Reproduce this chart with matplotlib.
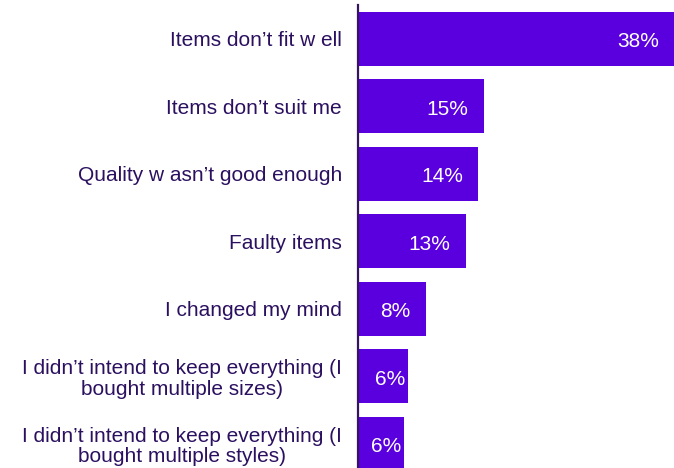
import matplotlib.pyplot as plt
from matplotlib.transforms import offset_copy

plt.rcParams["font.family"] = ["Liberation Sans", "DejaVu Sans"]

# ---------------------------------------------------------------------------
# data
# ---------------------------------------------------------------------------
categories = [
    "Items don\u2019t fit w ell",
    "Items don\u2019t suit me",
    "Quality w asn\u2019t good enough",
    "Faulty items",
    "I changed my mind",
    "I didn\u2019t intend to keep everything (I\nbought multiple sizes)",
    "I didn\u2019t intend to keep everything (I\nbought multiple styles)",
]
values = [38.0, 15.0, 14.3, 12.8, 8.1, 6.0, 5.5]
value_labels = [f"{round(v)}%" for v in values]

BAR = "#5a00de"
TEXT = "#2b1060"
AXIS = "#35155e"

W, H = 674, 468
fig = plt.figure(figsize=(W / 100, H / 100), dpi=100)
# axes placed in pixel terms: spine at x=358, top at y=5, bottom at figure edge
ax = fig.add_axes([358 / W, 0, 1 - 358 / W, (H - 5) / H])

pos = list(range(len(categories)))
ax.barh(pos, values, height=0.8, color=BAR, left=0)
ax.set_xlim(0, (W - 358) / 8.4)
ax.set_ylim(6.356, -0.5)

ax.set_yticks(pos)
ax.set_yticklabels(categories, fontsize=15, color=TEXT,
                   multialignment="center", linespacing=1.1)
ax.tick_params(axis="y", length=0, pad=11.5)
ax.set_xticks([])

for s in ("top", "right", "bottom"):
    ax.spines[s].set_visible(False)
ax.spines["left"].set_color(AXIS)
ax.spines["left"].set_linewidth(1.6)

for p, v, lab in zip(pos, values, value_labels):
    off = -11 if v >= 7 else -2
    tr = offset_copy(ax.transData, fig=fig, x=off, y=-2, units="points")
    ax.text(min(v, ax.get_xlim()[1]), p, lab, transform=tr, ha="right",
            va="center", color="white", fontsize=15)

fig.savefig("out.png", dpi=100)
